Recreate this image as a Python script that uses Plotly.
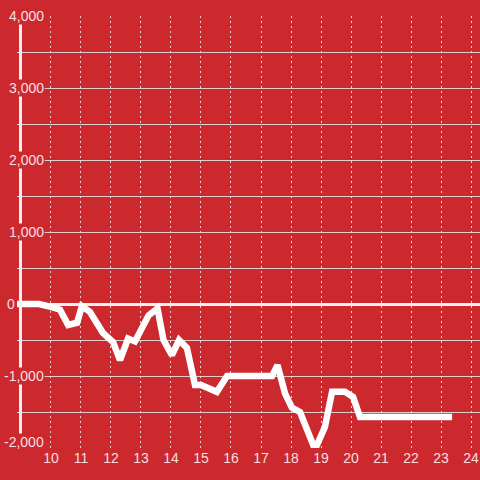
import plotly.graph_objects as go

# ---------------------------------------------------------------------------
# Data
# ---------------------------------------------------------------------------
hours = [8.87, 9.6, 10.0, 10.3, 10.57, 10.87, 11.03, 11.3, 11.73, 12.07, 12.3,
         12.57, 12.8, 13.25, 13.55, 13.75, 14.03, 14.27, 14.53, 14.8, 15.0,
         15.3, 15.53, 15.87, 17.37, 17.55, 17.8, 18.03, 18.3, 18.8, 19.13,
         19.37, 19.8, 20.07, 20.3, 23.37]
values = [0, 0, -40, -80, -290, -260, -30, -110, -400, -530, -780,
          -480, -520, -160, -60, -500, -710, -500, -610, -1125, -1125,
          -1190, -1220, -1000, -1000, -850, -1240, -1440, -1500, -2020, -1710,
          -1220, -1220, -1290, -1570, -1570]

x_ticks = list(range(10, 25))
y_ticks = [4000, 3000, 2000, 1000, 0, -1000, -2000]
y_labels = ["4,000", "3,000", "2,000", "1,000", "0", "-1,000", "-2,000"]

BG = "#cc292e"
INK = "#f7dfe0"
GRID = "rgba(225,225,225,0.9)"
FONT = "Liberation Sans, Arial, sans-serif"

fig = go.Figure(go.Scatter(
    x=hours, y=values, mode="lines",
    line=dict(color="#ffffff", width=6.5),
    hoverinfo="skip",
))

# white vertical rule near the left edge (labels sit on top of it)
fig.add_shape(type="line", xref="paper", yref="y", x0=3.5 / 463, x1=3.5 / 463,
              y0=-1850, y1=3890, line=dict(color="#f2f2f2", width=3), layer="above")

# y labels as boxed text so they mask the rule and the gridlines
for v, lab in zip(y_ticks, y_labels):
    if v == 0:
        fig.add_annotation(x=0, xref="paper", y=v, yref="y", text=lab, showarrow=False,
                           xanchor="right", font=dict(size=14, color=INK, family=FONT))
        continue
    fig.add_annotation(x=28 / 463, xref="paper", y=v, yref="y", text=lab, showarrow=False,
                       xanchor="right", bgcolor=BG, borderpad=0,
                       yshift=6 if v == -2000 else 0,
                       font=dict(size=14, color=INK, family=FONT))

fig.update_xaxes(
    range=[8.867, 24.3], tickvals=x_ticks, ticks="", showline=False, zeroline=False,
    showgrid=True, gridcolor="rgba(240,230,230,0.9)", gridwidth=1, griddash="2px,3px",
    tickfont=dict(size=14, color=INK, family=FONT),
)
fig.update_yaxes(
    range=[-2000, 4000], dtick=500, showticklabels=False, ticks="", showline=False,
    showgrid=True, gridcolor=GRID, gridwidth=1,
    zeroline=True, zerolinecolor="#f4f0f0", zerolinewidth=3,
)
fig.update_layout(
    width=480, height=480,
    margin=dict(l=17, r=0, t=16, b=32),
    paper_bgcolor=BG, plot_bgcolor=BG,
    showlegend=False,
    font=dict(family=FONT),
)

fig.write_html("out.html", config={"displayModeBar": False},
               post_script="document.body.style.margin='0';")
